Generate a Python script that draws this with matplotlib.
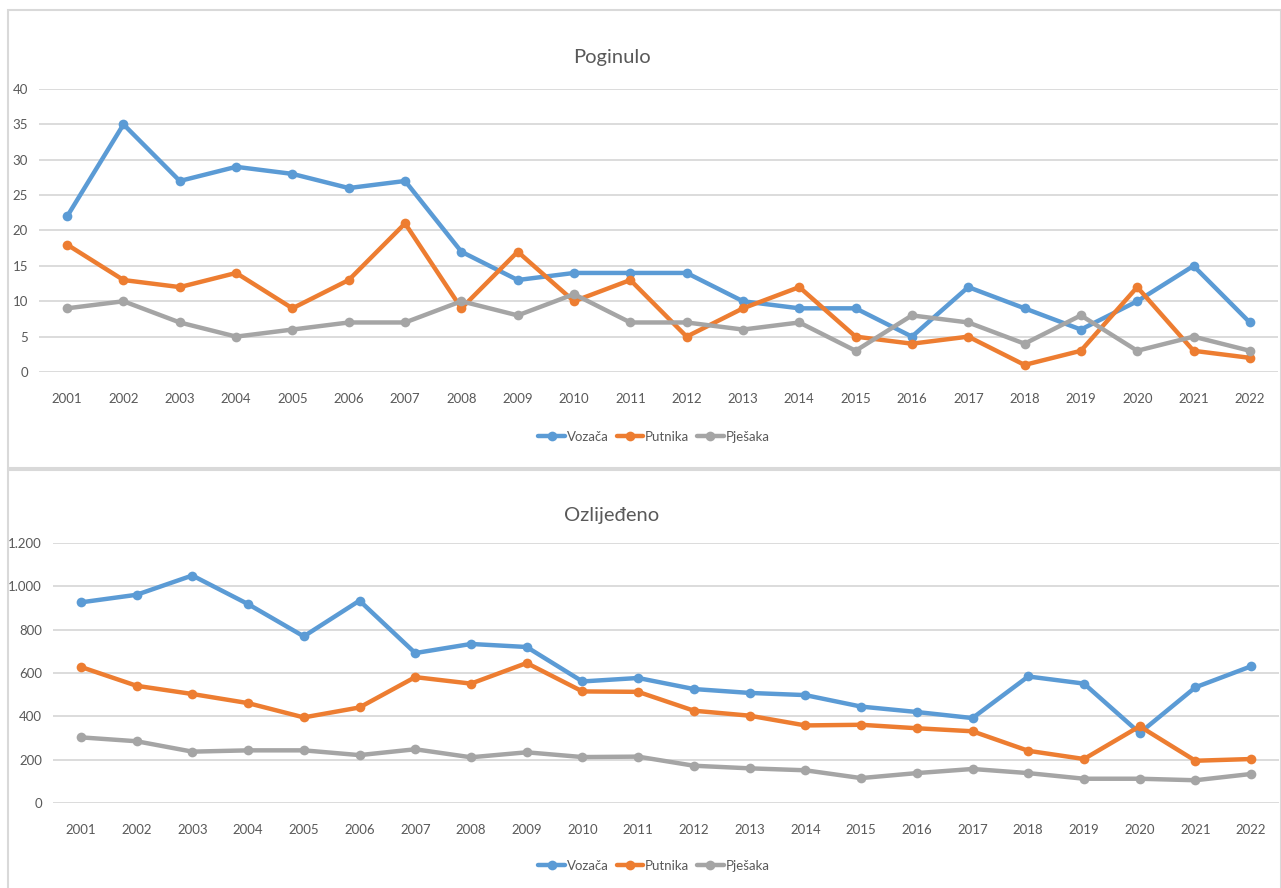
import matplotlib
matplotlib.use('Agg')
import matplotlib.pyplot as plt
from matplotlib.patches import Rectangle
from matplotlib.ticker import FuncFormatter, MultipleLocator

plt.rcParams['font.family'] = ['Lato', 'DejaVu Sans']

years = [str(y) for y in range(2001, 2023)]

# Poginulo (killed)
poginulo_vozaca = [22, 35, 27, 29, 28, 26, 27, 17, 13, 14, 14, 14, 10, 9, 9, 5, 12, 9, 6, 10, 15, 7]
poginulo_putnika = [18, 13, 12, 14, 9, 13, 21, 9, 17, 10, 13, 5, 9, 12, 5, 4, 5, 1, 3, 12, 3, 2]
poginulo_pjesaka = [9, 10, 7, 5, 6, 7, 7, 10, 8, 11, 7, 7, 6, 7, 3, 8, 7, 4, 8, 3, 5, 3]

# Ozlijeđeno (injured)
ozlijedeno_vozaca = [926, 961, 1050, 918, 769, 934, 692, 734, 720, 561, 577, 526, 508, 498,
                     445, 420, 392, 584, 551, 323, 534, 631]
ozlijedeno_putnika = [628, 541, 503, 461, 395, 441, 581, 551, 646, 515, 513, 426, 403, 358,
                      361, 345, 331, 241, 203, 354, 195, 203]
ozlijedeno_pjesaka = [303, 285, 237, 243, 243, 221, 248, 211, 234, 212, 214, 172, 160, 151,
                      115, 138, 157, 138, 112, 112, 105, 134]

series_names = ['Vozača', 'Putnika', 'Pješaka']
colors = ['#5B9BD5', '#ED7D31', '#A5A5A5']
text_col = '#595959'
grid_col = '#D9D9D9'

W, H = 1281, 888
fig = plt.figure(figsize=(W / 100, H / 100), dpi=100)


def px_axes(left, right, top, bottom):
    return fig.add_axes([left / W, 1 - bottom / H, (right - left) / W, (bottom - top) / H])


# panel borders
for (y0, y1) in [(10, 468), (470, 890)]:
    fig.patches.append(Rectangle((8 / W, 1 - y1 / H), (W - 8) / W, (y1 - y0) / H,
                                 transform=fig.transFigure, fill=False,
                                 edgecolor=grid_col, linewidth=1.5))


def draw_panel(ax, data, title, ymax, step, fmt, title_y, legend_y):
    x = list(range(len(years)))
    handles = []
    for vals, name, c in zip(data, series_names, colors):
        h, = ax.plot(x, vals, color=c, linewidth=3.2, marker='o', markersize=7,
                     markeredgewidth=0, label=name, solid_capstyle='round')
        handles.append(h)
    ax.set_xlim(-0.5, len(years) - 0.5)
    ax.set_ylim(0, ymax)
    ax.yaxis.set_major_locator(MultipleLocator(step))
    ax.yaxis.set_major_formatter(FuncFormatter(fmt))
    ax.set_xticks(x)
    ax.set_xticklabels(years)
    ax.grid(axis='y', color=grid_col, linewidth=1.3)
    ax.set_axisbelow(True)
    for s in ax.spines.values():
        s.set_visible(False)
    ax.tick_params(length=0, colors=text_col, labelsize=9.5)
    ax.tick_params(axis='x', pad=15)
    ax.tick_params(axis='y', pad=8)
    fig.text(612 / W, 1 - title_y / H, title, ha='center', va='center',
             fontsize=14.5, color=text_col)
    fig.legend(handles=handles, loc='center', bbox_to_anchor=(654 / W, 1 - legend_y / H),
               ncol=3, frameon=False, fontsize=9.5, labelcolor=text_col,
               handlelength=2.0, handletextpad=0.15, columnspacing=0.6)


ax1 = px_axes(39, 1278, 89, 372)
draw_panel(ax1, [poginulo_vozaca, poginulo_putnika, poginulo_pjesaka], 'Poginulo',
           40, 5, lambda v, p: f'{int(v)}', 57, 437)

ax2 = px_axes(53, 1279, 543, 803)
draw_panel(ax2, [ozlijedeno_vozaca, ozlijedeno_putnika, ozlijedeno_pjesaka], 'Ozlijeđeno',
           1200, 200, lambda v, p: f'{int(v):,}'.replace(',', '.'), 516, 866)

fig.savefig('out.png', dpi=100)
